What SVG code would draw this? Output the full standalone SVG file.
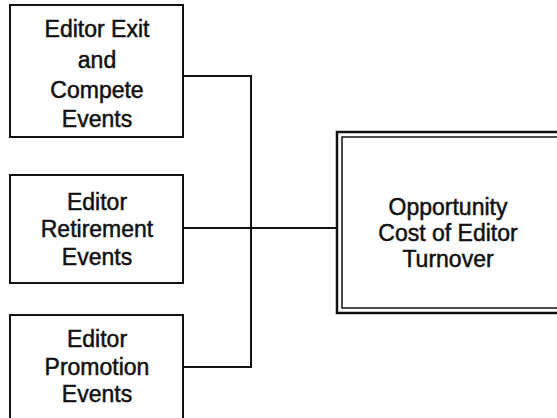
<svg xmlns="http://www.w3.org/2000/svg" width="557" height="418" viewBox="0 0 557 418">
  <style>
    .box { fill: #fff; stroke: #111; stroke-width: 2; }
    .outer { fill: #fff; stroke: #111; stroke-width: 2.5; }
    .inner { fill: none; stroke: #111; stroke-width: 1.5; }
    .lbl { font-family: "Liberation Sans", Arial, sans-serif; font-size: 23px; fill: #111; stroke: #111; stroke-width: 0.5; text-anchor: middle; }
    .wire { fill: none; stroke: #111; stroke-width: 2; }
  </style>
  <rect width="557" height="418" fill="#fff"/>

  <g id="connectors">
    <path class="wire" d="M183 76 H251 V367 H183"/>
    <path class="wire" d="M183 228 H337"/>
  </g>

  <g id="exit-compete">
    <rect class="box" x="10" y="5" width="173" height="132"/>
    <text class="lbl" x="97" y="37">Editor Exit</text>
    <text class="lbl" x="97" y="68">and</text>
    <text class="lbl" x="97" y="98">Compete</text>
    <text class="lbl" x="97" y="127">Events</text>
  </g>

  <g id="retirement">
    <rect class="box" x="10" y="175" width="173" height="108"/>
    <text class="lbl" x="97" y="210">Editor</text>
    <text class="lbl" x="97" y="237">Retirement</text>
    <text class="lbl" x="97" y="265">Events</text>
  </g>

  <g id="promotion">
    <rect class="box" x="10" y="315" width="173" height="120"/>
    <text class="lbl" x="97" y="347">Editor</text>
    <text class="lbl" x="97" y="375">Promotion</text>
    <text class="lbl" x="97" y="402">Events</text>
  </g>

  <g id="opportunity-cost">
    <rect class="outer" x="337" y="132" width="240" height="181"/>
    <rect class="inner" x="342" y="137" width="230" height="171"/>
    <text class="lbl" x="448" y="215">Opportunity</text>
    <text class="lbl" x="448" y="241">Cost of Editor</text>
    <text class="lbl" x="448" y="267">Turnover</text>
  </g>
</svg>
